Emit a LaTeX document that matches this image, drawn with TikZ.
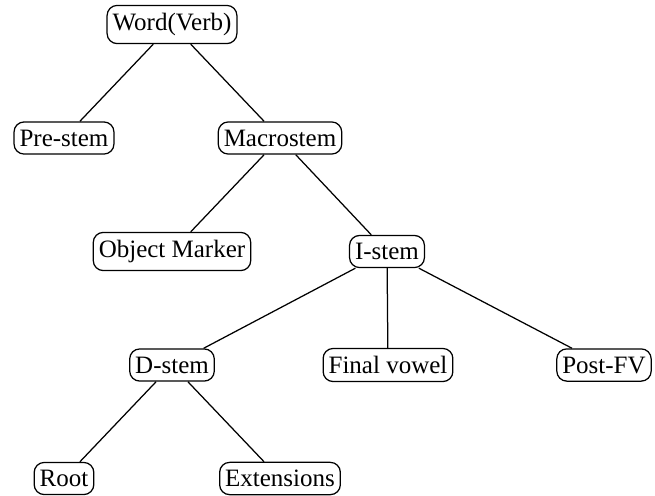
\documentclass[tikz,border=0pt]{standalone}
\usepackage{fontspec}
\setmainfont{Liberation Serif}
\usetikzlibrary{positioning}

\begin{document}
\begin{tikzpicture}[x=0.4pt, y=-0.4pt]
  % styles
  \tikzstyle{morph}=[rectangle, draw=black, rounded corners=4pt, inner xsep=2.2pt, inner ysep=3.1pt, line width=0.5pt, font=\fontsize{10}{12}\selectfont];
  \tikzstyle{branch}=[line width=0.5pt];
  \useasboundingbox (0,0) rectangle (655,495);

  %==================== NODES ====================
  \node[morph] (word)   at (172,24.5) {Word(Verb)};
  \node[morph] (pre)    at (64,138)   {Pre-stem};
  \node[morph] (macro)  at (280,138)  {Macrostem};
  \node[morph] (om)     at (172,251.5) {Object Marker};
  \node[morph] (istem)  at (387,251.5) {I-stem};
  \node[morph] (dstem)  at (172,365)  {D-stem};
  \node[morph] (fv)     at (388,365)  {Final vowel};
  \node[morph] (postfv) at (604,365)  {Post-FV};
  \node[morph] (root)   at (64,478.5) {Root};
  \node[morph] (ext)    at (280,478.5) {Extensions};

  %==================== EDGES ====================
  \draw[branch] (word) -- (pre);
  \draw[branch] (word) -- (macro);
  \draw[branch] (macro) -- (om);
  \draw[branch] (macro) -- (istem);
  \draw[branch] (istem) -- (dstem);
  \draw[branch] (istem) -- (fv);
  \draw[branch] (istem) -- (postfv);
  \draw[branch] (dstem) -- (root);
  \draw[branch] (dstem) -- (ext);
\end{tikzpicture}
\end{document}
